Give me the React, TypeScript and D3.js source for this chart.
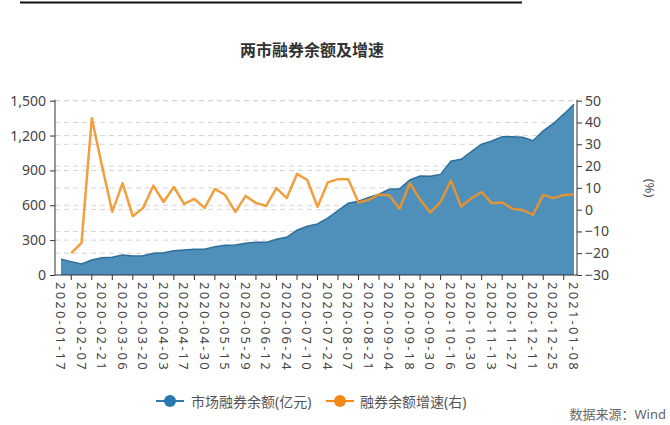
import { useRef, useEffect } from 'react'
import * as d3 from 'd3'

const dates = [
  '2020-01-17', '2020-01-23', '2020-02-07', '2020-02-14', '2020-02-21', '2020-02-28', '2020-03-06', '2020-03-13',
  '2020-03-20', '2020-03-27', '2020-04-03', '2020-04-10', '2020-04-17', '2020-04-24', '2020-04-30', '2020-05-08',
  '2020-05-15', '2020-05-22', '2020-05-29', '2020-06-05', '2020-06-12', '2020-06-19', '2020-06-24', '2020-07-03',
  '2020-07-10', '2020-07-17', '2020-07-24', '2020-07-31', '2020-08-07', '2020-08-14', '2020-08-21', '2020-08-28',
  '2020-09-04', '2020-09-11', '2020-09-18', '2020-09-25', '2020-09-30', '2020-10-09', '2020-10-16', '2020-10-23',
  '2020-10-30', '2020-11-06', '2020-11-13', '2020-11-20', '2020-11-27', '2020-12-04', '2020-12-11', '2020-12-18',
  '2020-12-25', '2020-12-31', '2021-01-08',
]

// 市场融券余额(亿元)
const balance = [
  135, 115, 95, 129, 149, 152, 172, 163, 166, 187, 192, 209, 215, 221, 221, 244,
  255, 258, 273, 281, 281, 307, 324, 385, 420, 440, 490, 555, 617, 635, 667, 695,
  737, 742, 818, 852, 849, 866, 980, 996, 1061, 1126, 1153, 1190, 1190, 1185, 1156, 1240,
  1304, 1384, 1470,
]

// 融券余额增速(%)，首周无数据
const growth = [
  null, -20, -15.3, 42, 20, -1, 12.2, -3, 0.8, 11, 3.5, 10.4, 2.6, 4.9, 0.8, 9.5,
  6.7, -1, 6.3, 3.1, 1.7, 9.9, 5.3, 16.4, 13.6, 1.3, 12.5, 14, 13.9, 3.3, 4.5, 7,
  6.5, 0.4, 12.1, 4.6, -1.3, 3.5, 13.4, 1.4, 5.2, 8.1, 2.9, 3.3, 0.4, -0.2, -2.3, 6.8,
  5.3, 6.7, 7,
]

const leftTicks = [0, 300, 600, 900, 1200, 1500]
const rightTicks = [-30, -20, -10, 0, 10, 20, 30, 40, 50]

const BLUE = '#4f90ba'
const BLUE_EDGE = '#2d6f9a'
const ORANGE = '#f0952a'
const FONT = '"Noto Sans", "Noto Sans CJK SC", sans-serif'

export default function App() {
  const svgRef = useRef<SVGSVGElement>(null)

  useEffect(() => {
    if (!svgRef.current) return
    const svg = d3.select(svgRef.current)
    svg.selectAll('*').remove()

    const left = 55, right = 577, top = 100.7, bottom = 275
    const x = d3.scalePoint<string>().domain(dates).range([61, 574])
    const yL = d3.scaleLinear().domain([0, 1500]).range([bottom, top])
    const yR = d3.scaleLinear().domain([-30, 50]).range([bottom, top])

    // top rule
    svg.append('line')
      .attr('x1', 20).attr('x2', 522).attr('y1', 2.5).attr('y2', 2.5)
      .attr('stroke', '#111').attr('stroke-width', 2)

    svg.append('text')
      .attr('x', 312).attr('y', 56)
      .attr('text-anchor', 'middle')
      .attr('font-family', FONT).attr('font-size', 16).attr('font-weight', 'bold')
      .attr('fill', '#333')
      .text('两市融券余额及增速')

    // grid lines for both axes
    const gridYs = [...leftTicks.map(d => yL(d)), ...rightTicks.map(d => yR(d))].filter(y => y < bottom - 1)
    svg.selectAll('.grid')
      .data(gridYs)
      .join('line')
      .attr('x1', left).attr('x2', right)
      .attr('y1', d => d).attr('y2', d => d)
      .attr('stroke', '#d4d4d4').attr('stroke-width', 1).attr('stroke-dasharray', '5,4')

    // area
    const rows = dates.map((d, i) => ({ d, b: balance[i], g: growth[i] }))
    const area = d3.area<typeof rows[0]>().x(r => x(r.d)!).y0(bottom).y1(r => yL(r.b))
    svg.append('path').datum(rows).attr('d', area).attr('fill', BLUE)
    const edge = d3.line<typeof rows[0]>().x(r => x(r.d)!).y(r => yL(r.b))
    svg.append('path').datum(rows).attr('d', edge)
      .attr('fill', 'none').attr('stroke', BLUE_EDGE).attr('stroke-width', 1.5)

    // growth line
    const line = d3.line<typeof rows[0]>()
      .defined(r => r.g != null)
      .x(r => x(r.d)!).y(r => yR(r.g as number))
    svg.append('path').datum(rows).attr('d', line)
      .attr('fill', 'none').attr('stroke', ORANGE).attr('stroke-width', 2.5)
      .attr('stroke-linejoin', 'round').attr('opacity', 0.9)

    // left axis
    const gl = svg.append('g').attr('transform', `translate(${left},0)`)
      .call(d3.axisLeft(yL).tickValues(leftTicks).tickSize(5).tickPadding(4).tickFormat(d3.format(',')))
    gl.select('.domain').attr('stroke', '#333').attr('d', `M-0,${top - 1}V${bottom}`)
    gl.selectAll('.tick line').attr('stroke', '#333')
    gl.selectAll('text').attr('fill', '#444').attr('font-size', 14).attr('font-family', FONT)

    // right axis
    const gr = svg.append('g').attr('transform', `translate(${right},0)`)
      .call(d3.axisRight(yR).tickValues(rightTicks).tickSize(5).tickPadding(3))
    gr.select('.domain').attr('stroke', '#333').attr('d', `M0,${top - 1}V${bottom}`)
    gr.selectAll('.tick line').attr('stroke', '#333')
    gr.selectAll('text').attr('fill', '#444').attr('font-size', 14).attr('font-family', FONT)

    svg.append('text')
      .attr('transform', 'translate(650,188) rotate(90)')
      .attr('text-anchor', 'middle').attr('dominant-baseline', 'central')
      .attr('font-family', FONT).attr('font-size', 13).attr('fill', '#555')
      .text('(%)')

    // x axis
    svg.append('line')
      .attr('x1', left).attr('x2', right).attr('y1', bottom).attr('y2', bottom)
      .attr('stroke', '#333')
    svg.selectAll('.xtick')
      .data(dates.filter((_, i) => i % 2 === 1))
      .join('line')
      .attr('x1', d => x(d)!).attr('x2', d => x(d)!)
      .attr('y1', bottom).attr('y2', bottom + 5)
      .attr('stroke', '#333')
    svg.selectAll('.xlabel')
      .data(dates.filter((_, i) => i % 2 === 0))
      .join('text')
      .attr('transform', d => `translate(${x(d)},${bottom + 7}) rotate(90)`)
      .attr('dominant-baseline', 'central')
      .attr('font-family', FONT).attr('font-size', 13).attr('letter-spacing', 2.2)
      .attr('fill', '#444')
      .text(d => d)

    // legend
    const legend = [
      { label: '市场融券余额(亿元)', color: '#2a78b0', cx: 170, tx: 191 },
      { label: '融券余额增速(右)', color: '#f28a1a', cx: 340, tx: 360 },
    ]
    const lg = svg.append('g')
    legend.forEach(l => {
      lg.append('line').attr('x1', l.cx - 14).attr('x2', l.cx + 14)
        .attr('y1', 401).attr('y2', 401).attr('stroke', l.color).attr('stroke-width', 2)
      lg.append('circle').attr('cx', l.cx).attr('cy', 401).attr('r', 6).attr('fill', l.color)
      lg.append('text').attr('x', l.tx).attr('y', 401)
        .attr('dominant-baseline', 'central')
        .attr('font-family', FONT).attr('font-size', 14).attr('fill', '#555')
        .text(l.label)
    })

    svg.append('text')
      .attr('x', 666).attr('y', 419)
      .attr('text-anchor', 'end')
      .attr('font-family', FONT).attr('font-size', 13).attr('fill', '#666')
      .text('数据来源：Wind')
  }, [])

  return (
    <svg
      ref={svgRef}
      width={670}
      height={425}
      style={{ position: 'absolute', left: 0, top: 0, background: '#fff' }}
    />
  )
}
